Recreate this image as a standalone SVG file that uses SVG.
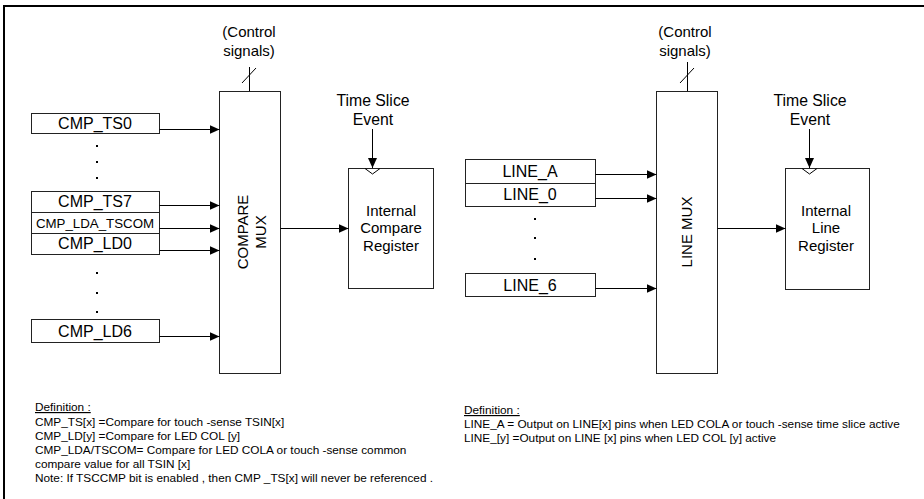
<svg xmlns="http://www.w3.org/2000/svg" width="924" height="499" viewBox="0 0 924 499">
<defs>
<marker id="ah" markerUnits="userSpaceOnUse" markerWidth="11" markerHeight="11" refX="10" refY="5.5" orient="auto">
<path d="M0,1 L10,5.5 L0,10 z" fill="#000"/>
</marker>
<style>
.box{fill:#fff;stroke:#222;stroke-width:1}
.lbl{font-family:"Liberation Sans",Arial,sans-serif;font-size:16px;fill:#000;text-anchor:middle}
.sm{font-size:13.3px}
.big{font-family:"Liberation Sans",Arial,sans-serif;font-size:15px;fill:#000;text-anchor:middle}
.ts{font-size:15.8px}
.def{font-family:"Liberation Sans",Arial,sans-serif;font-size:11.8px;fill:#000}
.wire{fill:none;stroke:#000;stroke-width:1}
.arr{fill:none;stroke:#000;stroke-width:1;marker-end:url(#ah)}
.dot{fill:#000}
</style>
</defs>
<rect width="924" height="499" fill="#fff"/>
<path d="M4,499 V6 H924" fill="none" stroke="#000" stroke-width="2"/>

<g id="cmp_ts0"><rect class="box" x="31.5" y="113.5" width="128" height="20"/><text class="lbl" x="95" y="129">CMP_TS0</text></g>
<g id="dots1"><rect class="dot" x="96" y="145" width="2" height="2"/><rect class="dot" x="96" y="161" width="2" height="2"/><rect class="dot" x="96" y="177" width="2" height="2"/></g>
<g id="cmp_ts7"><rect class="box" x="31.5" y="191.5" width="128" height="21"/><text class="lbl" x="95" y="207">CMP_TS7</text></g>
<g id="cmp_lda_tscom"><rect class="box" x="31.5" y="212.5" width="128" height="21"/><text class="lbl sm" x="95" y="227.5">CMP_LDA_TSCOM</text></g>
<g id="cmp_ld0"><rect class="box" x="31.5" y="233.5" width="128" height="21"/><text class="lbl" x="95" y="249">CMP_LD0</text></g>
<g id="dots2"><rect class="dot" x="96" y="272" width="2" height="2"/><rect class="dot" x="96" y="292" width="2" height="2"/><rect class="dot" x="96" y="311" width="2" height="2"/></g>
<g id="cmp_ld6"><rect class="box" x="31.5" y="319.5" width="128" height="23"/><text class="lbl" x="95" y="337">CMP_LD6</text></g>

<g id="compare_mux"><rect class="box" x="219.5" y="91.5" width="61" height="282"/>
<text class="big" transform="translate(243,232) rotate(-90)" y="5">COMPARE</text>
<text class="big" transform="translate(261,232) rotate(-90)" y="5">MUX</text></g>
<g id="ctrl1"><text class="big" x="249" y="37">(Control</text><text class="big" x="249" y="56">signals)</text></g>

<g id="tse1"><text class="big ts" x="373" y="106">Time Slice</text><text class="big ts" x="373" y="125">Event</text></g>
<g id="compare_reg"><rect class="box" x="348.5" y="168.5" width="85" height="120"/>
<polyline class="wire" points="365,168.5 372.5,174 380,168.5"/>
<text class="big" x="391" y="216">Internal</text><text class="big" x="391" y="233">Compare</text><text class="big" x="391" y="251">Register</text></g>

<g id="line_a"><rect class="box" x="465.5" y="159.5" width="130" height="24"/><text class="lbl" x="530" y="177">LINE_A</text></g>
<g id="line_0"><rect class="box" x="465.5" y="183.5" width="130" height="23"/><text class="lbl" x="530" y="200">LINE_0</text></g>
<g id="dots3"><rect class="dot" x="534" y="218" width="2" height="2"/><rect class="dot" x="534" y="237" width="2" height="2"/><rect class="dot" x="534" y="258" width="2" height="2"/></g>
<g id="line_6"><rect class="box" x="465.5" y="273.5" width="130" height="23"/><text class="lbl" x="530" y="291">LINE_6</text></g>

<g id="line_mux"><rect class="box" x="656.5" y="91.5" width="61" height="282"/>
<text class="big" transform="translate(687,232) rotate(-90)" y="5">LINE MUX</text></g>
<g id="ctrl2"><text class="big" x="685" y="37">(Control</text><text class="big" x="685" y="56">signals)</text></g>

<g id="tse2"><text class="big ts" x="810" y="106">Time Slice</text><text class="big ts" x="810" y="125">Event</text></g>
<g id="line_reg"><rect class="box" x="785.5" y="168.5" width="84" height="121"/>
<polyline class="wire" points="802,168.5 809.5,174 817,168.5"/>
<text class="big" x="826" y="216">Internal</text><text class="big" x="826" y="233">Line</text><text class="big" x="826" y="251">Register</text></g>

<g id="connectors">
<line class="arr" x1="159.5" y1="129.5" x2="219.5" y2="129.5"/>
<line class="arr" x1="159.5" y1="205.5" x2="219.5" y2="205.5"/>
<line class="arr" x1="159.5" y1="228.5" x2="219.5" y2="228.5"/>
<line class="arr" x1="159.5" y1="250.5" x2="219.5" y2="250.5"/>
<line class="arr" x1="159.5" y1="336.5" x2="219.5" y2="336.5"/>
<line class="arr" x1="280.5" y1="228.5" x2="348.5" y2="228.5"/>
<line class="arr" x1="372.5" y1="129" x2="372.5" y2="168"/>
<line class="wire" x1="249.5" y1="91" x2="249.5" y2="67"/>
<line class="wire" x1="242" y1="83" x2="256" y2="68"/>
<line class="arr" x1="595.5" y1="174.5" x2="656.5" y2="174.5"/>
<line class="arr" x1="595.5" y1="198.5" x2="656.5" y2="198.5"/>
<line class="arr" x1="595.5" y1="288.5" x2="656.5" y2="288.5"/>
<line class="arr" x1="717.5" y1="228.5" x2="785.5" y2="228.5"/>
<line class="arr" x1="809.5" y1="129" x2="809.5" y2="168"/>
<line class="wire" x1="687.5" y1="91" x2="687.5" y2="62"/>
<line class="wire" x1="680" y1="83" x2="694" y2="68"/>
</g>

<g id="def_left">
<text class="def" x="35" y="411" text-decoration="underline">Definition :</text>
<text class="def" x="35" y="426">CMP_TS[x] =Compare for touch -sense TSIN[x]</text>
<text class="def" x="35" y="440">CMP_LD[y] =Compare for LED COL [y]</text>
<text class="def" x="35" y="454">CMP_LDA/TSCOM= Compare for LED COLA or touch -sense common</text>
<text class="def" x="35" y="468">compare value for all TSIN [x]</text>
<text class="def" x="35" y="482">Note: If TSCCMP bit is enabled , then CMP _TS[x] will never be referenced  .</text>
</g>
<g id="def_right">
<text class="def" x="464" y="414" text-decoration="underline">Definition :</text>
<text class="def" x="464" y="428">LINE_A = Output on LINE[x] pins when LED COLA or touch  -sense time slice active</text>
<text class="def" x="464" y="442">LINE_[y] =Output on LINE [x] pins when LED COL [y] active</text>
</g>
</svg>
